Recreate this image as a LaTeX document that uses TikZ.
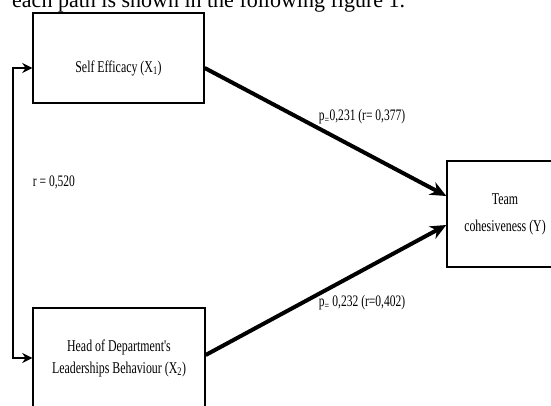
\documentclass[tikz,border=0pt]{standalone}
\usepackage{fontspec}
\setmainfont{Liberation Serif}
\newfontfamily\narrowfont[FakeStretch=0.72]{Liberation Serif}
\usetikzlibrary{positioning,arrows.meta}

\begin{document}
\begin{tikzpicture}[x=1pt,y=-1pt,
  box/.style={draw,line width=1.4pt,rectangle,inner sep=0pt,align=center},
  caption/.style={font=\narrowfont\fontsize{16.5}{22}\selectfont,align=center},
  coef/.style={font=\narrowfont\fontsize{16}{18}\selectfont,inner sep=1pt},
  effect/.style={line width=4pt,-{Stealth[length=16pt,width=14pt]}},
  corr/.style={line width=2pt,{Stealth[length=10pt,width=10pt]}-{Stealth[length=10pt,width=10pt]}}]
    \clip (0,0) rectangle (551,406);
    \node (intro) [anchor=base west,inner sep=0pt,font=\fontsize{22}{26}\selectfont] at (12,7.5)
      {each path is shown in the following figure 1.};
    % boxes
    \node (self_efficacy) [box,minimum width=171,minimum height=90] at (118.5,58) {};
    \node (self_efficacy_text) [caption] at (118.5,68) {Self Efficacy (X\textsubscript{1})};
    \node (leadership) [box,caption,minimum width=172,minimum height=100] at (119,358)
      {Head of Department's\\Leaderships Behaviour (X\textsubscript{2})};
    \node (team) [box,caption,font=\narrowfont\fontsize{16.5}{27}\selectfont,
      minimum width=116,minimum height=106] at (505,214) {Team\\cohesiveness (Y)};
    % paths
    \draw [effect] ([yshift=-10pt]self_efficacy.east) -- ([yshift=18pt]team.west);
    \draw [effect] ([yshift=3pt]leadership.east) -- ([yshift=-11pt]team.west);
    \coordinate (corr_line) at (13,200);
    \draw [corr] ([yshift=-10pt]self_efficacy.west) -| (corr_line |- leadership.west) -- (leadership.west);
    % coefficients
    \node (r_x1_x2) [coef] at (54,182) {r = 0,520};
    \node (p_x1_y) [coef] at (362,117) {p\textsubscript{=}0,231 (r= 0,377)};
    \node (p_x2_y) [coef] at (362,303) {p\textsubscript{=} 0,232 (r=0,402)};
\end{tikzpicture}
\end{document}
